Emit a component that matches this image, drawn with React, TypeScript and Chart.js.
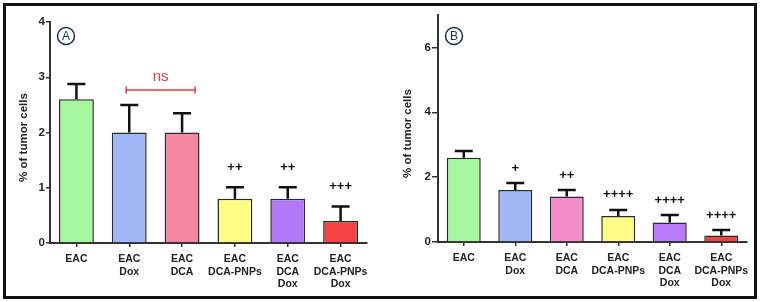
import React, { useEffect, useRef } from "react";
import { Chart, registerables } from "chart.js";

Chart.register(...registerables);

// Treatment groups shared by both panels
const categories: string[][] = [
  ["EAC"],
  ["EAC", "Dox"],
  ["EAC", "DCA"],
  ["EAC", "DCA-PNPs"],
  ["EAC", "DCA", "Dox"],
  ["EAC", "DCA-PNPs", "Dox"],
];

// Panel A
const meansA = [2.6, 2.0, 2.0, 0.8, 0.8, 0.4];
const errorsA = [0.28, 0.5, 0.35, 0.21, 0.21, 0.26];
const marksA = ["", "", "", "++", "++", "+++"];
const colorsA = ["#a6f7a0", "#9fb7f5", "#f4879f", "#fdfd86", "#b378f5", "#f44444"];
const ticksA = [0, 1, 2, 3, 4];

// Panel B
const meansB = [2.6, 1.6, 1.4, 0.8, 0.6, 0.2];
const errorsB = [0.21, 0.22, 0.2, 0.19, 0.23, 0.17];
const marksB = ["", "+", "++", "++++", "++++", "++++"];
const colorsB = ["#a6f7a0", "#9fb7f5", "#f38cc8", "#fdfd86", "#b97af7", "#f34040"];
const ticksB = [0, 2, 4, 6];

const FONT = "'Liberation Sans', Arial, Helvetica, sans-serif";

type PanelProps = {
  left: number;
  width: number;
  means: number[];
  errors: number[];
  marks: string[];
  colors: string[];
  ticks: number[];
  yMax: number;
  letter: string;
  axisLeft: number;
  axisRight: number;
  plotTop: number;
  plotBottom: number;
  tickLen: number;
  titleX: number;
  markGap: number;
  bracket?: { from: number; to: number; value: number; label: string };
};

function Panel(p: PanelProps) {
  const ref = useRef<HTMLCanvasElement>(null);

  useEffect(() => {
    const canvas = ref.current;
    if (!canvas) return;
    const height = 302;

    const overlay = {
      id: "panelOverlay",
      afterDatasetsDraw(chart: any) {
        const ctx = chart.ctx as CanvasRenderingContext2D;
        const xs = chart.scales.x;
        const ys = chart.scales.y;
        const meta = chart.getDatasetMeta(0);
        ctx.save();

        // upward error bars and significance marks
        meta.data.forEach((bar: any, i: number) => {
          const base = ys.getPixelForValue(p.means[i]);
          const top = ys.getPixelForValue(p.means[i] + p.errors[i]);
          ctx.strokeStyle = "#111";
          ctx.lineWidth = 2.5;
          ctx.lineCap = "butt";
          ctx.beginPath();
          ctx.moveTo(bar.x, base);
          ctx.lineTo(bar.x, top);
          ctx.moveTo(bar.x - 9, top);
          ctx.lineTo(bar.x + 9, top);
          ctx.stroke();
          if (p.marks[i]) {
            ctx.fillStyle = "#111";
            ctx.font = `bold 13px ${FONT}`;
            ctx.textAlign = "center";
            ctx.textBaseline = "middle";
            ctx.fillText(p.marks[i], bar.x, top - p.markGap);
          }
        });

        // comparison bracket
        if (p.bracket) {
          const b = p.bracket;
          const x1 = xs.getPixelForValue(b.from) - 3;
          const x2 = xs.getPixelForValue(b.to) + 13;
          const y = ys.getPixelForValue(b.value);
          ctx.strokeStyle = "#e03a3a";
          ctx.lineWidth = 1.5;
          ctx.beginPath();
          ctx.moveTo(x1, y);
          ctx.lineTo(x2, y);
          ctx.moveTo(x1, y - 3.5);
          ctx.lineTo(x1, y + 3.5);
          ctx.moveTo(x2, y - 3.5);
          ctx.lineTo(x2, y + 3.5);
          ctx.stroke();
          ctx.fillStyle = "#e03a3a";
          ctx.font = `15px ${FONT}`;
          ctx.textAlign = "center";
          ctx.textBaseline = "middle";
          ctx.fillText(b.label, (x1 + x2) / 2, y - 13);
        }

        // panel letter in a circle
        const cx = chart.chartArea.left + 16;
        const cy = 36;
        ctx.strokeStyle = "#1c2f4a";
        ctx.lineWidth = 1.5;
        ctx.beginPath();
        ctx.arc(cx, cy, 8.5, 0, Math.PI * 2);
        ctx.stroke();
        ctx.fillStyle = "#1c2f4a";
        ctx.font = `12px ${FONT}`;
        ctx.textAlign = "center";
        ctx.textBaseline = "middle";
        ctx.fillText(p.letter, cx, cy + 0.5);

        // y-axis title
        ctx.save();
        ctx.translate(p.titleX, (chart.chartArea.top + chart.chartArea.bottom) / 2 + 5);
        ctx.rotate(-Math.PI / 2);
        ctx.fillStyle = "#222";
        ctx.font = `bold 11.5px ${FONT}`;
        ctx.textAlign = "center";
        ctx.textBaseline = "middle";
        ctx.fillText("% of tumor cells", 0, 0);
        ctx.restore();

        ctx.restore();
      },
    };

    const chart = new Chart(canvas, {
      type: "bar",
      data: {
        labels: categories,
        datasets: [
          {
            data: p.means,
            backgroundColor: p.colors,
            borderColor: "#2a2a2a",
            borderWidth: 1.5,
            categoryPercentage: 1,
            barPercentage: 0.66,
          },
        ],
      },
      options: {
        responsive: false,
        animation: false,
        devicePixelRatio: 1,
        layout: {
          padding: { top: p.plotTop, right: p.width - p.axisRight, left: 0, bottom: 0 },
        },
        plugins: { legend: { display: false }, tooltip: { enabled: false } },
        scales: {
          x: {
            afterFit: (s: any) => {
              s.height = height - p.plotBottom;
            },
            border: { display: true, color: "#333", width: 2 },
            grid: {
              display: true,
              offset: false,
              drawOnChartArea: false,
              drawTicks: true,
              tickLength: 4,
              color: "#333",
              lineWidth: 1.5,
            },
            ticks: {
              color: "#222",
              font: { family: FONT, size: 10.5, weight: "bold" },
              padding: 6,
              maxRotation: 0,
              autoSkip: false,
            },
          },
          y: {
            min: 0,
            max: p.yMax,
            afterFit: (s: any) => {
              s.width = p.axisLeft;
            },
            afterBuildTicks: (s: any) => {
              s.ticks = p.ticks.map((v) => ({ value: v }));
            },
            border: { display: true, color: "#333", width: 2 },
            grid: {
              display: true,
              drawOnChartArea: false,
              drawTicks: true,
              tickLength: p.tickLen,
              color: "#333",
              lineWidth: 1.5,
            },
            ticks: {
              color: "#222",
              font: { family: FONT, size: 11.5, weight: "bold" },
              padding: 1,
            },
          },
        },
      },
      plugins: [overlay],
    });

    return () => chart.destroy();
  }, []);

  return (
    <canvas
      ref={ref}
      width={p.width}
      height={302}
      style={{ position: "absolute", left: p.left, top: 0, width: p.width, height: 302 }}
    />
  );
}

export default function App() {
  return (
    <div
      style={{
        position: "fixed",
        left: 0,
        top: 0,
        width: 761,
        height: 302,
        background: "#fff",
        overflow: "hidden",
      }}
    >
      <div
        style={{
          position: "absolute",
          left: 3,
          top: 3,
          width: 754,
          height: 296,
          boxSizing: "border-box",
          border: "3px solid #111",
        }}
      />
      <Panel
        left={0}
        width={380}
        means={meansA}
        errors={errorsA}
        marks={marksA}
        colors={colorsA}
        ticks={ticksA}
        yMax={4}
        letter="A"
        axisLeft={50}
        axisRight={367}
        plotTop={22}
        plotBottom={243}
        tickLen={4}
        titleX={24}
        markGap={20}
        bracket={{ from: 1, to: 2, value: 2.77, label: "ns" }}
      />
      <Panel
        left={380}
        width={381}
        means={meansB}
        errors={errorsB}
        marks={marksB}
        colors={colorsB}
        ticks={ticksB}
        yMax={7}
        letter="B"
        axisLeft={58}
        axisRight={367}
        plotTop={15}
        plotBottom={242}
        tickLen={6}
        titleX={28}
        markGap={15}
      />
    </div>
  );
}
